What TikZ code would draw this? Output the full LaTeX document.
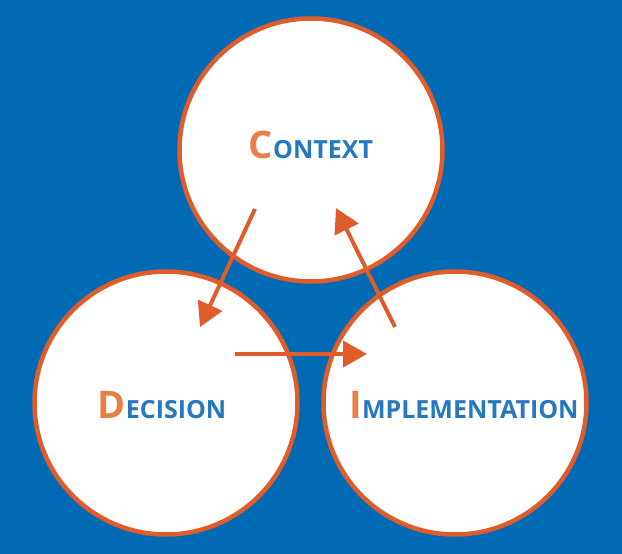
\documentclass[tikz,border=0pt]{standalone}
\usepackage{fontspec}
\setmainfont{Open Sans}
\usepackage{xcolor}
\definecolor{bgBlue}{RGB}{0, 106, 181}
\definecolor{ringOrange}{RGB}{224, 92, 42}
\definecolor{capOrange}{RGB}{232, 126, 72}
\definecolor{wordBlue}{RGB}{38, 120, 192}
\usetikzlibrary{arrows.meta}

\newcommand{\capword}[2]{{\color{capOrange}\fontsize{38}{38}\selectfont #1}{\color{wordBlue}\fontsize{25}{25}\selectfont #2}}

\begin{document}
\begin{tikzpicture}[
    x=1pt, y=-1pt,
    every node/.style={font=\bfseries},
    ring/.style={circle, draw=ringOrange, line width=4.5pt, fill=white,
        minimum size=263pt, inner sep=0pt},
    arr/.style={-{Triangle[length=24pt, width=26pt]}, line width=4pt, ringOrange}
]

%% ---- Background ----
\fill[bgBlue] (0,0) rectangle (622,554);
\useasboundingbox (0,0) rectangle (622,554);

%% ---- Circles ----
\node[ring] (ctx) at (311,150) {};
\node[ring] (dec) at (166,403) {};
\node[ring] (imp) at (455,403) {};

%% ---- Labels ----
\node[anchor=base] (ctxLbl) at (311,158) {\capword{C}{ONTEXT}};
\node[anchor=base] (decLbl) at (162,418) {\capword{D}{ECISION}};
\node[anchor=base] (impLbl) at (464,418) {\capword{I}{MPLEMENTATION}};

%% ---- Arrow ends ----
\coordinate (ctxOut) at (255,209);
\coordinate (decIn)  at (200,327);
\coordinate (decOut) at (235,354);
\coordinate (impIn)  at (367,354);
\coordinate (impOut) at (395,327);
\coordinate (ctxIn)  at (336,208);

%% ---- Arrows ----
\draw[arr] (ctxOut) -- (decIn);
\draw[arr] (decOut) -- (impIn);
\draw[arr] (impOut) -- (ctxIn);

\end{tikzpicture}
\end{document}
